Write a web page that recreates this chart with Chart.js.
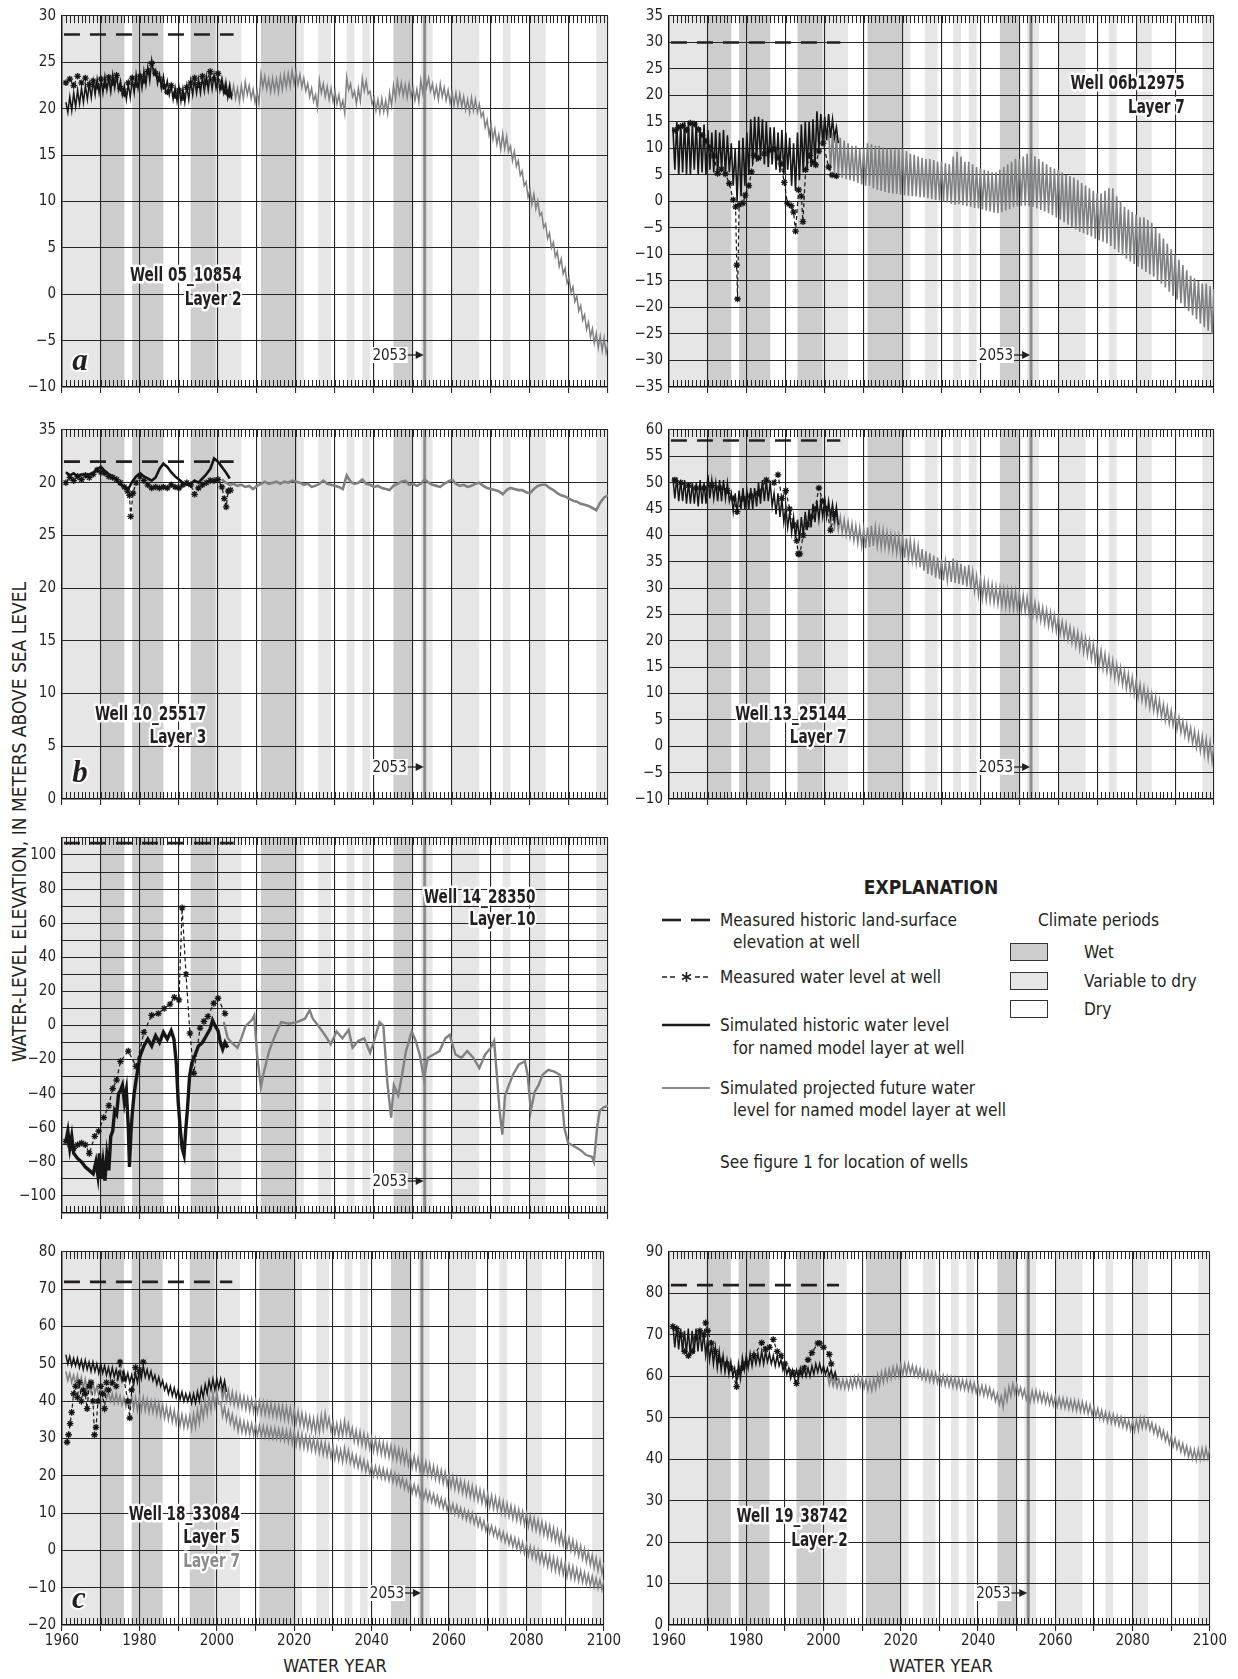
<!DOCTYPE html>
<html>
<head>
<meta charset="utf-8">
<script src="https://cdn.jsdelivr.net/npm/chart.js@4.4.0/dist/chart.umd.min.js"></script>
<style>
  body { margin: 0; background: #fff; }
  #fig { position: relative; width: 1238px; height: 1679px; overflow: hidden;
         font-family: "Liberation Sans Narrow", "DejaVu Sans Condensed", "Roboto Condensed", "Arial Narrow", sans-serif;
         color: #231f20; }
  #fig canvas { position: absolute; }
  .t { position: absolute; white-space: nowrap; font-size: 18px; line-height: 1;
       transform: translateY(-50%) scaleX(0.95); transform-origin: left center; }
  .b { font-weight: bold; }
  .sw { position: absolute; width: 38px; height: 18px; border: 1px solid #333; box-sizing: border-box; }
  #ytitle { position: absolute; left: 19px; top: 822px; white-space: nowrap; font-size: 19px;
            transform: translate(-50%, -50%) rotate(-90deg); }
</style>
</head>
<body>
<div id="fig">
  <div id="ytitle">WATER-LEVEL ELEVATION, IN METERS ABOVE SEA LEVEL</div>
  <div class="t" style="left:335px;top:1666px;transform:translate(-50%,-50%)">WATER YEAR</div>
  <div class="t" style="left:941px;top:1666px;transform:translate(-50%,-50%)">WATER YEAR</div>

  <!-- explanation -->
  <div class="t b" style="left:931px;top:887px;font-size:19px;transform:translate(-50%,-50%)">EXPLANATION</div>
  <svg style="position:absolute;left:655px;top:905px" width="60" height="220">
    <line x1="7" y1="15" x2="26" y2="15" stroke="#231f20" stroke-width="2.6"/>
    <line x1="36" y1="15" x2="55" y2="15" stroke="#231f20" stroke-width="2.6"/>
    <line x1="7" y1="72" x2="23" y2="72" stroke="#231f20" stroke-width="1.4" stroke-dasharray="5,3"/>
    <line x1="40" y1="72" x2="56" y2="72" stroke="#231f20" stroke-width="1.4" stroke-dasharray="5,3"/>
    <g stroke="#231f20" stroke-width="1.6">
      <line x1="31.5" y1="67" x2="31.5" y2="77"/><line x1="27" y1="69.5" x2="36" y2="74.5"/><line x1="27" y1="74.5" x2="36" y2="69.5"/>
    </g>
    <line x1="7" y1="120" x2="55" y2="120" stroke="#1a1a1a" stroke-width="2.6"/>
    <line x1="7" y1="183" x2="55" y2="183" stroke="#8a8b8d" stroke-width="2.2"/>
  </svg>
  <div class="t" style="left:720px;top:920px">Measured historic land-surface</div>
  <div class="t" style="left:733px;top:942px">elevation at well</div>
  <div class="t" style="left:720px;top:977px">Measured water level at well</div>
  <div class="t" style="left:720px;top:1025px">Simulated historic water level</div>
  <div class="t" style="left:733px;top:1048px">for named model layer at well</div>
  <div class="t" style="left:720px;top:1088px">Simulated projected future water</div>
  <div class="t" style="left:733px;top:1110px">level for named model layer at well</div>
  <div class="t" style="left:720px;top:1162px">See figure 1 for location of wells</div>
  <div class="t" style="left:1038px;top:920px">Climate periods</div>
  <div class="sw" style="left:1010px;top:943px;background:#cdcdce"></div>
  <div class="sw" style="left:1010px;top:972px;background:#e6e6e7"></div>
  <div class="sw" style="left:1010px;top:1000px;background:#fff"></div>
  <div class="t" style="left:1084px;top:952px">Wet</div>
  <div class="t" style="left:1084px;top:981px">Variable to dry</div>
  <div class="t" style="left:1084px;top:1009px">Dry</div>
</div>

<script>
// ---- climate periods (water years) ----
const wetPeriods = [[1969.6, 1976], [1978, 1986], [1993, 1999.4], [2011, 2020.2], [2045, 2050]];
const varPeriods = [[1960, 1969.6], [1999.4, 2006], [2020.2, 2022], [2025.7, 2029], [2033, 2035], [2037, 2039],
                    [2052, 2055], [2060, 2067], [2073, 2075], [2080, 2084], [2097, 2100]];
const markYear = 2053;

// land-surface elevation at each well (a, 06b, b, 13, 14, 18, 19)
const landSurface = [28, 30, 32, 58, 107, 72, 82];

// ---- Well 05_10854, layer 2 ----
const histA_hi = [20.7, 21.3, 21.7, 22.0, 22.2, 22.5, 22.7, 23.0, 23.2, 23.2,
  23.5, 23.3, 23.7, 23.5, 23.0, 22.5, 22.7, 23.2, 23.7, 23.7,
  24.1, 24.5, 25.2, 24.2, 23.7, 23.5, 23.0, 22.5, 22.3, 22.3,
  22.2, 22.5, 23.0, 23.2, 23.2, 23.4, 23.5, 23.6, 23.7, 23.5,
  23.2, 22.7, 22.5];
const histA_lo = [19.6, 19.8, 20.2, 20.5, 20.7, 21.0, 21.2, 21.5, 21.7, 21.7,
  22.0, 21.8, 22.2, 22.0, 21.5, 21.0, 21.2, 21.7, 22.2, 22.2,
  22.6, 23.0, 23.7, 22.7, 22.2, 22.0, 21.5, 21.0, 20.8, 20.8,
  20.7, 21.0, 21.5, 21.7, 21.7, 21.9, 22.0, 22.1, 22.2, 22.0,
  21.7, 21.2, 21.0];
const measA = [22.8, 23.2, 22.5, 23.5, 22.8, 23.3, 22.6, 23.0, 22.4, 23.2,
  22.5, 23.4, 22.8, 23.6, 22.2, 21.6, 22.8, 23.3, 22.6, 23.5,
  23.0, 24.0, 24.9, 23.8, 23.2, 22.4, 21.8, 22.5, 21.4, 22.0,
  21.2, 22.3, 22.8, 23.3, 22.6, 23.5, 22.9, 24.0, 23.2, 23.8,
  22.3, 21.8, 21.5];
const futA_hi = [23.5, 23.1, 22.7, 22.5, 22.2, 22.5, 22.9, 22.5, 22.1, 21.9,
  23.7, 23.5, 23.2, 23.3, 23.2, 23.5, 23.7, 23.8, 24.1, 24.0,
  23.7, 23.3, 22.7, 22.2, 21.5, 23.1, 22.7, 22.4, 22.2, 21.9,
  21.5, 20.9, 23.4, 22.7, 21.9, 22.2, 23.3, 23.0, 21.9, 21.2,
  21.0, 21.1, 20.9, 21.7, 22.5, 23.0, 22.8, 22.6, 22.7, 22.3,
  22.1, 23.1, 23.7, 23.3, 22.7, 22.4, 22.7, 22.3, 22.0, 21.8,
  21.7, 21.6, 21.3, 21.0, 21.2, 21.0, 20.5, 19.6, 18.8, 18.3,
  17.8, 17.2, 17.3, 17.0, 16.0, 15.4, 14.4, 13.3, 12.1, 11.3,
  10.8, 10.1, 8.8, 7.6, 6.6, 5.6, 4.6, 3.8, 2.8, 1.8,
  0.8, -0.2, -1.2, -2.2, -3.0, -3.7, -4.2, -4.5, -4.7, -5.2];
const futA_lo = [22.1, 21.7, 21.3, 21.1, 20.8, 21.1, 21.5, 21.1, 20.7, 20.5,
  22.3, 22.1, 21.8, 21.9, 21.8, 22.1, 22.3, 22.4, 22.7, 22.6,
  22.3, 21.9, 21.3, 20.8, 20.1, 21.7, 21.3, 21.0, 20.8, 20.5,
  20.1, 19.5, 22.0, 21.3, 20.5, 20.8, 21.9, 21.6, 20.5, 19.8,
  19.6, 19.7, 19.5, 20.3, 21.1, 21.6, 21.4, 21.2, 21.3, 20.9,
  20.7, 21.7, 22.3, 21.9, 21.3, 21.0, 21.3, 20.9, 20.6, 20.4,
  20.3, 20.2, 19.9, 19.6, 19.8, 19.6, 19.1, 18.0, 17.2, 16.7,
  16.2, 15.6, 15.7, 15.4, 14.4, 13.8, 12.8, 11.7, 10.5, 9.7,
  9.2, 8.5, 7.2, 6.0, 5.0, 4.0, 3.0, 2.2, 1.2, 0.2,
  -0.8, -1.8, -2.8, -3.8, -4.6, -5.3, -5.8, -6.1, -6.3, -6.8];

// ---- Well 06b12975, layer 7 ----
const histB_hi = [14, 15, 14.5, 15, 15, 14.5, 15, 14, 14.5, 13.5,
  13, 13.5, 13, 13.5, 12.5, 11, 10, 11.5, 12, 13,
  15.5, 16, 16, 15.5, 15, 14, 14, 13, 13.5, 13,
  12, 11, 13, 14.5, 15, 15, 15.5, 17, 16.5, 16,
  16.5, 15.5, 14];
const histB_lo = [6, 5, 5.5, 5, 5, 6, 5, 5.5, 5, 6,
  5.5, 5, 6, 5, 5.5, 3, 0, 1, 3, 5,
  7, 7.5, 8, 7, 6.5, 7, 6, 5.5, 5, 6,
  3, 2, 4, 5.5, 6, 6.5, 7, 10, 11, 11.5,
  12, 12, 11];
const measB_x = [1961.6, 1962.5, 1963.5, 1964.5, 1965.5, 1966.5, 1967.5, 1968.5, 1969.5, 1970.5,
  1971.5, 1972.5, 1973.5, 1974.5, 1975.5, 1976.5, 1977.1, 1977.4, 1977.6, 1978.0,
  1979.0, 1979.6, 1980.5, 1981.2, 1981.8, 1983.0, 1984.5, 1985.7, 1987.0, 1988.0,
  1988.8, 1989.6, 1990.4, 1991.4, 1992.0, 1992.5, 1993.3, 1994.0, 1994.4, 1995.1,
  1996.2, 1997.0, 1997.7, 1998.5, 1999.6, 2001.0, 2001.9, 2003.0];
const measB = [13.4, 14, 14.3, 13.5, 14.8, 14.6, 13.6, 12.5, 11.4, 10.2,
  8.6, 5.3, 6.1, 5.2, 3.4, 0.3, -1, -12, -18.4, -0.6,
  -0.3, 1.2, 3.0, 5.6, 8.7, 8.2, 9.0, 9.7, 9.9, 8.3,
  7.1, 3.6, -0.3, -0.8, -2, -5.6, 2.2, 1, -3.8, 6.0,
  8.7, 7.4, 6.9, 9.5, 11.0, 6.5, 5.0, 4.8];
const futB_hi = [13.5, 13, 12.5, 12, 11.5, 11, 10.5, 10.5, 10, 10,
  11, 10.8, 10.5, 10.5, 10.2, 10, 10, 9.8, 10, 10,
  9.5, 9, 8.8, 8.5, 8.2, 8, 8, 7.8, 7.5, 7.5,
  7.2, 7, 8.5, 9.4, 8.5, 7.5, 7.5, 7, 6.5, 6.2,
  6, 5.8, 5.5, 5.5, 6, 6.5, 7, 7.5, 8, 8,
  8.5, 9, 9, 8.5, 8, 7.5, 7, 6.5, 6.2, 6,
  5.5, 5, 4.8, 4.5, 4, 3.5, 3, 2.5, 2, 1.5,
  1.5, 2, 2.5, 2.5, 1, 0, -1, -1.5, -2, -2.5,
  -3, -3, -3.5, -4, -5, -6, -7, -8, -9, -10,
  -11, -12, -13, -14, -14.5, -15, -15.5, -15.5, -16, -16.5];
const futB_lo = [6, 5.5, 5, 4.5, 4.2, 4, 3.8, 3.5, 3.2, 3,
  3, 2.5, 2.2, 2, 1.8, 1.6, 1.5, 1.4, 1.3, 1.2,
  1.1, 1, 1, 0.8, 0.8, 0.6, 0.5, 0.3, 0.2, 0,
  -0.2, -0.4, -0.6, -0.5, -0.7, -0.9, -1, -1.2, -1.3, -1.5,
  -1.7, -1.9, -2.1, -2.2, -2, -1.7, -1.4, -1.1, -0.9, -0.8,
  -0.8, -0.9, -1, -1.3, -1.6, -1.9, -2.2, -2.6, -3, -3.4,
  -3.9, -4.4, -4.9, -5.3, -5.7, -6, -6.3, -6.6, -7, -7.3,
  -7.6, -7.9, -8.4, -9, -9.6, -10.2, -10.8, -11.3, -11.8, -12.3,
  -12.8, -13.3, -13.7, -14.2, -14.8, -15.5, -16.2, -17, -17.8, -18.5,
  -19.2, -20, -20.7, -21.5, -22.2, -23, -23.7, -24.4, -25, -25.5];

// ---- Well 10_25517, layer 3 ----
const histC = [31.0, 30.7, 30.9, 30.6, 30.8, 30.7, 30.8, 30.9, 31.3, 31.5,
  31.1, 30.8, 30.6, 30.2, 29.8, 29.6, 29.4, 30.1, 30.6, 30.9,
  30.6, 30.4, 30.2, 30.5, 31.3, 31.8, 31.5, 31.0, 30.6, 30.3,
  30.0, 29.8, 29.9, 30.2, 30.0, 30.4, 30.8, 31.3, 32.3, 32.0,
  31.5, 31.0, 30.4];
const measC_x = [1961, 1962, 1963, 1964, 1965, 1966, 1967, 1968, 1969, 1970,
  1971, 1972, 1973, 1974, 1975, 1976, 1976.8, 1977.3, 1977.6, 1978.2,
  1979, 1980, 1981, 1982, 1983, 1984, 1985, 1986, 1987, 1988,
  1989, 1990, 1991, 1992, 1993, 1994, 1995, 1996, 1997, 1998,
  1999, 2000, 2001, 2001.6, 2002.1, 2002.6, 2003.2];
const measC = [30.0, 30.5, 30.2, 30.6, 30.3, 30.7, 30.5, 30.8, 31.2, 31.0,
  30.9, 30.6, 30.5, 30.3, 30.0, 29.6, 29.2, 28.8, 26.8, 29.0,
  30.0, 30.6, 30.2, 29.8, 29.5, 29.6, 29.5, 29.6, 29.5, 29.8,
  29.6, 29.5, 29.8, 30.0, 29.8, 28.9, 29.5, 29.8, 30.0, 30.2,
  30.2, 30.3, 29.6, 28.5, 27.7, 29.2, 29.3];
const futC = [30.3, 30.0, 29.8, 29.9, 29.7, 29.8, 29.6, 29.7, 29.4, 29.7,
  29.9, 30.1, 29.9, 30.0, 30.1, 29.9, 30.1, 30.0, 30.2, 30.1,
  30.0, 29.8, 29.9, 29.6, 29.7, 29.9, 30.2, 29.9, 29.8, 29.7,
  29.6, 29.4, 30.7, 30.1, 29.9, 30.0, 30.3, 29.9, 29.8, 29.6,
  29.7, 29.5, 29.4, 29.3, 29.7, 29.9, 30.1, 30.2, 29.8, 29.9,
  29.7, 29.9, 30.3, 30.0, 29.8, 29.7, 29.6, 29.9, 30.1, 30.3,
  29.9, 29.7, 29.8, 29.6, 29.7, 29.9, 30.0, 29.7, 29.5, 29.4,
  29.3, 29.2, 28.9, 29.3, 29.5, 29.4, 29.3, 29.3, 29.1, 29.0,
  29.4, 29.7, 29.8, 29.8, 29.5, 29.3, 29.0, 28.8, 28.7, 28.5,
  28.3, 28.2, 28.0, 27.9, 27.8, 27.6, 27.4, 28.1, 28.6, 28.8];

// ---- Well 13_25144, layer 7 ----
const histD_hi = [51, 51, 50.5, 50.5, 50, 50, 50, 50.5, 50, 51.5,
  50.5, 50, 50.5, 50.5, 50, 48, 48, 48.5, 49, 48.5,
  49, 49, 50, 50.5, 50.5, 50, 48, 48, 47, 45.5,
  44.5, 43.5, 43, 43.5, 44.5, 45, 46, 46.5, 46.5, 47,
  46.5, 46, 45.5];
const histD_lo = [47, 46.5, 46.5, 46, 46, 46, 45.5, 46, 46, 47,
  47, 46.5, 46.5, 47, 46.5, 44.5, 44, 45, 45, 45,
  45, 45.5, 46, 46.5, 46.5, 45.5, 44, 43.5, 42.5, 41.5,
  40.5, 39.5, 39, 40, 41, 41.5, 42.5, 43, 43.5, 43.5,
  43.5, 43, 42];
const measD_x = [1961.5, 1963, 1965, 1967, 1969, 1971, 1973, 1975, 1976.5, 1977.5,
  1979, 1981, 1983, 1985, 1987, 1988, 1989, 1990, 1991, 1992,
  1992.8, 1993.2, 1993.6, 1994.5, 1995.5, 1996.5, 1997.5, 1998.5, 1999.5, 2000.5,
  2001.5, 2002.5];
const measD = [50.5, 50, 49.5, 49, 49, 49.5, 49, 48.5, 47, 44.5,
  47, 47.5, 48, 50.5, 50, 51.5, 47, 48.5, 45, 42,
  39, 36.5, 36.5, 40, 42, 43.5, 45, 49, 46.5, 45,
  41, 44];
const futD_hi = [45.0, 44.5, 44.0, 43.5, 43.0, 42.6, 42.2, 41.8, 41.5, 41.3,
  41.5, 41.8, 41.6, 41.2, 41.0, 40.6, 40.3, 40.0, 39.8, 39.6,
  39.4, 39.0, 38.5, 38.0, 37.4, 37.0, 36.6, 36.2, 35.8, 35.4,
  35.1, 35.0, 35.6, 35.3, 34.6, 34.2, 34.4, 33.2, 32.3, 31.8,
  31.3, 31.0, 30.6, 30.3, 30.0, 29.8, 29.6, 29.5, 29.4, 29.0,
  28.7, 28.3, 27.8, 27.3, 26.8, 26.3, 25.9, 25.4, 24.9, 24.4,
  23.7, 23.2, 22.6, 22.0, 21.6, 21.0, 20.5, 20.0, 19.4, 18.8,
  18.2, 17.5, 16.9, 16.3, 15.6, 15.0, 14.3, 13.7, 13.1, 12.4,
  11.8, 11.2, 10.6, 10.0, 9.4, 8.7, 8.0, 7.4, 6.8, 6.1,
  5.5, 4.8, 4.2, 3.5, 2.9, 2.4, 1.9, 1.4, 0.9, 0.5];
const futD_lo = [42.0, 41.5, 41.0, 40.5, 40.1, 39.6, 39.0, 38.5, 38.0, 37.6,
  37.8, 38.0, 37.9, 37.7, 37.6, 37.3, 37.0, 36.6, 36.2, 35.8,
  35.6, 35.2, 34.7, 34.0, 33.3, 32.7, 32.4, 32.0, 31.7, 31.5,
  31.4, 31.2, 31.0, 30.8, 30.6, 30.3, 30.0, 29.4, 28.6, 28.0,
  27.7, 27.5, 27.2, 26.9, 26.6, 26.4, 26.2, 26.0, 25.9, 25.7,
  25.5, 25.2, 24.8, 24.3, 23.8, 23.3, 22.8, 22.3, 21.8, 21.3,
  20.7, 20.2, 19.6, 19.0, 18.4, 17.8, 17.2, 16.6, 16.0, 15.3,
  14.7, 14.1, 13.5, 12.9, 12.3, 11.7, 11.0, 10.4, 9.8, 9.2,
  8.6, 8.0, 7.3, 6.7, 6.1, 5.5, 4.9, 4.3, 3.9, 3.2,
  2.6, 2.0, 1.3, 0.5, -0.2, -0.9, -1.6, -2.3, -2.9, -3.5];

// ---- Well 14_28350, layer 10 ----
const histE_x = [1961, 1961.5, 1962, 1962.5, 1963, 1964, 1965, 1966, 1967, 1968,
  1968.7, 1969.2, 1969.6, 1970, 1970.5, 1971, 1971.5, 1972, 1972.5, 1973,
  1973.5, 1974, 1974.5, 1975, 1975.5, 1976, 1976.5, 1977, 1977.3, 1977.7,
  1978, 1978.5, 1979, 1980, 1981, 1982, 1983, 1984, 1985, 1986,
  1987, 1988, 1988.7, 1989.3, 1989.8, 1990.3, 1990.8, 1991.3, 1991.7, 1992.2,
  1992.7, 1993.3, 1994, 1995, 1996, 1997, 1998, 1998.6, 1999.2, 2000,
  2000.6, 2001.2, 2001.8, 2002.5];
const histE = [-68, -62, -72, -65, -75, -78, -80, -83, -85, -87,
  -80, -88, -75, -90, -80, -91, -76, -85, -65, -62,
  -50, -52, -40, -38, -35, -45, -38, -60, -83, -62,
  -52, -40, -32, -18, -12, -8, -12, -6, -10, -4,
  -8, -3, -8, -22, -45, -60, -72, -76, -62, -48,
  -30, -22, -18, -12, -10, -6, -2, 3, 0, -3,
  -10, -14, -10, -13];
const measE_x = [1961, 1962, 1963, 1964, 1965, 1966, 1967, 1968.4, 1969.4, 1970.7,
  1972, 1973, 1974, 1975, 1977, 1979, 1981, 1983, 1984.7, 1986.2,
  1987.7, 1988.8, 1990, 1990.8, 1991.8, 1992.8, 1993.8, 1995.4, 1996.4, 1997.4,
  1998.9, 2000, 2001.8];
const measE = [-68, -70, -72, -70, -69, -70, -75, -65, -62, -54,
  -47, -37, -32, -21, -15, -24, -4, 6, 7, 10,
  12.5, 16.5, 15, 69, 30, -4.5, -28, -1.5, 2.4, 5.3,
  13, 16, 7];
const futE_x = [2001.5, 2002.5, 2003.5, 2005, 2006, 2007, 2008.6, 2009.3, 2010, 2011,
  2011.6, 2013.1, 2014.7, 2016.2, 2018.2, 2020.2, 2022.3, 2023.5, 2024.3, 2025.8,
  2027.4, 2028.9, 2030.4, 2031.9, 2033.5, 2034.5, 2036, 2037.5, 2039, 2040,
  2041.4, 2042.4, 2043.4, 2044.4, 2045.1, 2046.2, 2047.2, 2048.2, 2049.7, 2050.7,
  2051.7, 2052.8, 2053.8, 2055.3, 2056.8, 2058.3, 2059.4, 2060.9, 2062.4, 2063.9,
  2065.5, 2067, 2068.5, 2070, 2070.8, 2071.5, 2072.2, 2072.9, 2073.6, 2074.6,
  2075.6, 2077.1, 2078.7, 2079.4, 2080.2, 2081.2, 2082.2, 2083.2, 2084.7, 2086.2,
  2087.7, 2088.8, 2089.8, 2091.4, 2092.9, 2094.4, 2095.9, 2096.4, 2097.2, 2097.9,
  2098.9, 2100];
const futE = [2, -7.5, -10, -13, -7.5, -0.5, 3, 6, -17, -36,
  -29, -15, -5.5, 2, 1, 2, 4, 9, 4, -0.5,
  -5.5, -11, -3.5, -7.5, -2.5, -13, -9, -7.5, -16, -9,
  2, 0, -33, -54, -35, -41, -29, -15, -3.5, -9,
  -17, -31, -19, -17, -15, -7.5, -5.5, -17, -19, -15,
  -19, -25, -17, -13, -9, -29, -50, -64, -41, -35,
  -29, -23, -21, -29, -50, -39, -35, -29, -26, -27,
  -29, -60, -69, -71, -73, -76, -77, -80, -60, -50,
  -48, -47];

// ---- Well 18_33084, layers 5 and 7 ----
const histF5_hi = [52.5, 52, 51.5, 51.5, 51, 51, 50.5, 50.5, 50, 50,
  49.5, 49, 49, 48.5, 48, 48, 47.5, 47, 47.5, 48.5,
  49.5, 48.5, 48, 47, 46.5, 45.5, 44.5, 44, 43.5, 43,
  42.5, 42, 42, 42, 42.5, 43.5, 44.5, 45.5, 46, 46,
  46, 45.5];
const histF5_lo = [50, 49.5, 49.5, 49, 48.5, 48.5, 48, 48, 47.5, 47.5,
  47, 46.5, 46.5, 46, 45.5, 45.5, 45, 44.5, 45, 46,
  46.5, 46, 45.5, 44.5, 44, 43, 42, 41.5, 41, 40.5,
  40, 40, 39.5, 39.5, 40, 41, 42, 43, 43, 43.5,
  43, 42.5];
const histF7_hi = [48, 47.5, 47, 47, 46.5, 46, 45.5, 45, 44, 43.5,
  43, 42.5, 42, 42, 41.5, 41, 41, 41.5, 41, 41,
  41, 40.5, 40, 40, 39.5, 39, 38.5, 38, 37.5, 37,
  36.5, 36, 36, 36.5, 37.5, 39, 40, 41, 42, 42.5];
const histF7_lo = [45.5, 45, 44.5, 44, 43.5, 43, 42.5, 42, 41.5, 41,
  40.5, 40, 39.5, 39.5, 39, 38.5, 38, 38, 37.5, 37.5,
  37.5, 37, 37, 36.5, 36, 35.5, 35, 34.5, 34, 33.5,
  33, 33, 32.5, 33, 34, 35.5, 36.5, 37.5, 38.5, 39];
const measF_x = [1961.3, 1961.7, 1962.1, 1962.5, 1963, 1963.5, 1964, 1964.5, 1965, 1965.5,
  1966, 1966.5, 1967, 1967.5, 1968, 1968.4, 1968.8, 1969.3, 1970, 1970.5,
  1971, 1971.5, 1972, 1973, 1974, 1975, 1976, 1977, 1977.5, 1978,
  1979, 1980, 1981];
const measF = [29, 31, 34, 37, 42, 44, 41, 45, 40, 43,
  42, 38, 44, 45, 40, 31, 33, 40, 44, 42,
  38, 45, 43, 45, 44, 50.5, 46, 40, 35.5, 43,
  49, 48, 50.5];
const futF5_hi = [44, 43.5, 43, 42.5, 42, 41.5, 41.2, 40.8, 40.5, 40.2,
  40, 39.8, 39.6, 39.4, 39.2, 39, 38.8, 38.5, 38.2, 37.8,
  37.3, 36.8, 36.3, 35.8, 35.4, 35.5, 36.2, 36.8, 35.5, 34.6,
  34, 34.2, 34.8, 34, 32.8, 32.2, 31.8, 31.3, 30.8, 30.2,
  29.8, 29.3, 28.9, 28.5, 28.1, 27.7, 27.3, 26.8, 26.3, 25.8,
  25.3, 24.8, 24.3, 23.7, 23.2, 22.6, 22.1, 21.5, 21.0, 20.4,
  19.9, 19.4, 18.8, 18.3, 17.8, 17.3, 16.8, 16.2, 15.7, 15.2,
  14.7, 14.2, 13.6, 13.1, 12.6, 12.0, 11.5, 11.0, 10.4, 9.9,
  9.3, 8.8, 8.2, 7.7, 7.1, 6.6, 6.0, 5.4, 4.8, 4.1,
  3.4, 2.7, 2.0, 1.2, 0.4, -0.4, -1.2, -2.0, -2.7, -3.3];
const futF5_lo = [40.5, 40, 39.5, 39, 38.6, 38.2, 37.8, 37.4, 37.1, 36.8,
  36.6, 36.4, 36.2, 36, 35.7, 35.4, 35.1, 34.8, 34.4, 34,
  33.5, 33, 32.5, 32, 31.6, 31.7, 32.4, 33, 31.9, 31,
  30.4, 30.6, 31.2, 30.4, 29.2, 28.6, 28.2, 27.7, 27.2, 26.6,
  26.2, 25.8, 25.4, 25, 24.6, 24.2, 23.8, 23.3, 22.8, 22.3,
  21.8, 21.3, 20.8, 20.2, 19.7, 19.1, 18.6, 18.0, 17.5, 16.9,
  16.4, 15.9, 15.3, 14.8, 14.3, 13.8, 13.3, 12.7, 12.2, 11.7,
  11.2, 10.7, 10.1, 9.6, 9.1, 8.5, 8.0, 7.5, 6.9, 6.4,
  5.8, 5.3, 4.7, 4.2, 3.6, 3.1, 2.5, 1.9, 1.3, 0.6,
  -0.1, -0.8, -1.5, -2.3, -3.1, -3.9, -4.7, -5.5, -6.2, -6.8];
const futF7_hi = [40, 38.5, 37.5, 36.5, 35.5, 35, 34.5, 34.2, 34, 33.7,
  33.5, 33.3, 33.1, 32.9, 32.8, 32.6, 32.4, 32.2, 32.1, 32,
  31.6, 31.2, 30.8, 30.4, 30, 29.6, 29.2, 28.8, 28.4, 28,
  27.5, 27, 27.5, 26.8, 25.8, 25.3, 24.8, 24.2, 23.5, 22.8,
  22.5, 22.2, 21.9, 21.5, 21.2, 20.7, 20.1, 19.5, 18.8, 18.2,
  17.7, 17.2, 16.6, 16.1, 15.6, 15.1, 14.6, 14.0, 13.5, 13.0,
  12.5, 12.0, 11.4, 10.9, 10.4, 10.0, 9.3, 8.6, 7.9, 7.2,
  6.6, 6.0, 5.4, 4.9, 4.3, 3.8, 3.3, 2.8, 2.2, 1.7,
  1.1, 0.6, 0.0, -0.5, -1.0, -1.4, -1.9, -2.4, -2.9, -3.4,
  -3.9, -4.4, -4.9, -5.4, -5.9, -6.4, -6.9, -7.4, -7.8, -8.0];
const futF7_lo = [36, 35, 34, 33, 32, 31.6, 31.3, 31.1, 31, 30.8,
  30.6, 30.4, 30.2, 30.1, 30, 29.7, 29.4, 29, 28.6, 28.2,
  27.8, 27.5, 27.2, 26.9, 26.5, 26.1, 25.7, 25.3, 24.9, 24.5,
  24.1, 23.7, 24, 23.4, 22.7, 22.2, 21.7, 21.1, 20.5, 20,
  19.7, 19.4, 19.1, 18.7, 18.3, 17.8, 17.2, 16.6, 16, 15.4,
  14.9, 14.4, 13.9, 13.4, 12.9, 12.4, 11.8, 11.3, 10.8, 10.3,
  9.8, 9.3, 8.7, 8.2, 7.7, 7.1, 6.5, 5.8, 5.2, 4.6,
  4.0, 3.4, 2.8, 2.2, 1.6, 1.0, 0.4, -0.2, -0.8, -1.4,
  -2.0, -2.6, -3.2, -3.8, -4.4, -5.0, -5.5, -6.0, -6.5, -7.0,
  -7.4, -7.8, -8.2, -8.6, -9.0, -9.4, -9.8, -10.2, -10.6, -11.0];

// ---- Well 19_38742, layer 2 ----
const histG_hi = [72.5, 72, 71.5, 71, 71.5, 71, 71.5, 71, 70.5, 69,
  67.5, 67, 66, 65, 64, 63.5, 62, 63, 64.5, 65,
  65.5, 65.5, 65.5, 66, 66, 65.5, 65, 65, 64, 63,
  62, 61.5, 61.5, 62, 62, 62, 62.5, 63, 63, 62.5,
  62, 61.5, 61];
const histG_lo = [67, 66.5, 66, 65.5, 65, 65.5, 66, 66, 65, 64,
  63, 62, 61.5, 61, 60.5, 60, 58.5, 59.5, 61.5, 62,
  62.5, 63, 63, 63, 63.5, 63, 62.5, 62.5, 61.5, 60.5,
  59.5, 59.5, 59.5, 60, 60, 60, 60.5, 61, 61, 60.5,
  60, 59.5, 59];
const measG_x = [1961, 1962, 1963, 1964, 1965, 1966, 1967, 1968, 1969, 1969.5,
  1970, 1971, 1972, 1973, 1975, 1976, 1977.5, 1978, 1979, 1980,
  1982, 1984, 1985, 1986, 1987, 1988, 1989, 1990, 1992, 1993,
  1994, 1995, 1996, 1997, 1998.5, 1999, 2000, 2001.5, 2002];
const measG = [72, 71.5, 70, 66, 65, 66, 69.3, 71, 70, 72.9,
  71, 68, 66, 64, 63, 62, 57.5, 61, 62, 63,
  65, 68.1, 66.5, 67, 68.9, 66, 65, 63, 61, 58.3,
  61, 62, 64, 65.7, 68, 68, 67, 65.3, 63];
const futG_hi = [60.5, 60, 59.5, 59.3, 59.3, 59.2, 59.5, 59.8, 60, 59.8,
  59.2, 59, 59.5, 60.3, 61, 61.5, 61.8, 62.2, 62.5, 62.8,
  63, 63, 62.6, 62.2, 61.8, 61.5, 61.2, 61, 60.8, 60.5,
  60.2, 60, 59.8, 59.6, 59.4, 59.2, 59, 58.7, 58.4, 58.1,
  57.8, 57.6, 57.2, 56.5, 55.8, 55.3, 56.5, 57.5, 58.2, 58,
  57.3, 56.8, 56.2, 56.5, 56.6, 56.2, 55.9, 55.6, 55.3, 55.1,
  54.9, 54.7, 54.5, 54.3, 54.2, 54, 53.8, 53.5, 53.1, 52.7,
  52.2, 51.8, 51.4, 51.1, 50.8, 50.5, 50.2, 49.8, 49.4, 49.2,
  49.5, 50, 50, 49.5, 48.8, 48.2, 47.6, 46.9, 46.2, 45.6,
  45, 44.3, 43.7, 43.1, 42.6, 42.3, 42.4, 42.6, 42.7, 42.6];
const futG_lo = [58, 57.6, 57.3, 57.2, 57.1, 57, 57.2, 57.5, 57.6, 57.2,
  56.6, 56.5, 57, 57.8, 58.5, 59, 59.4, 59.8, 60.1, 60.3,
  60.5, 60.6, 60.2, 59.8, 59.4, 59.1, 58.8, 58.6, 58.4, 58.1,
  57.8, 57.6, 57.4, 57.2, 57, 56.8, 56.6, 56.3, 56, 55.7,
  55.4, 55.2, 54.8, 54, 53.2, 52.5, 54, 55.2, 55.8, 55.6,
  55, 54.4, 53.8, 54, 54.1, 53.8, 53.5, 53.2, 52.9, 52.7,
  52.5, 52.3, 52.1, 51.9, 51.7, 51.5, 51.3, 51, 50.6, 50.2,
  49.8, 49.4, 49, 48.7, 48.4, 48.1, 47.8, 47.4, 47, 46.8,
  47, 47.5, 47.5, 47, 46.3, 45.7, 45.1, 44.4, 43.7, 43.1,
  42.5, 41.8, 41.2, 40.6, 40.1, 39.8, 39.9, 40.1, 40.2, 40.1];

// ---------------------------------------------------------------
const FONT = '"Liberation Sans Narrow", "DejaVu Sans Condensed", "Roboto Condensed", "Arial Narrow", sans-serif';
const INK = '#231f20', BLACK = '#161616', GRAY = '#808183';
const WET = '#cdcdce', VAR = '#e6e6e7';

const span = (a, b) => { const r = []; for (let y = a; y <= b; y++) r.push(y); return r; };
function zig(yrs, hi, lo) {
  const out = [];
  const n = Math.min(yrs.length, hi.length, lo.length);
  for (let i = 0; i < n; i++) {
    out.push({ x: yrs[i], y: hi[i] });
    out.push({ x: yrs[i] + 0.5, y: lo[i] });
  }
  return out;
}
const pts = (xs, ys) => ys.map((v, i) => ({ x: xs[i], y: v }));
const histYrs = span(1961, 2003), futYrs = span(2001, 2100);

const landDs = v => ({ data: [{ x: 1960.5, y: v }, { x: 2004, y: v }], borderColor: INK, borderWidth: 2.6,
  borderDash: [16, 10], pointRadius: 0, order: 0 });
const measDs = d => ({ data: d, borderColor: BLACK, borderWidth: 1.2, borderDash: [4, 3], pointStyle: 'star',
  pointRadius: 3.3, pointBorderWidth: 1.3, pointBorderColor: BLACK, pointBackgroundColor: BLACK, order: 1 });
const lineDs = (d, c, w, ord) => ({ data: d, borderColor: c, borderWidth: w, pointRadius: 0, order: ord });

// background bands, 2053 marker, minor ticks and the text laid on the plot
const decor = {
  id: 'decor',
  beforeDraw(chart) {
    const { ctx, chartArea: a, scales: { x } } = chart;
    ctx.save();
    const band = (list, col) => {
      ctx.fillStyle = col;
      list.forEach(([s, e]) => {
        const x0 = x.getPixelForValue(s), x1 = x.getPixelForValue(e);
        ctx.fillRect(x0, a.top, x1 - x0, a.bottom - a.top);
      });
    };
    band(varPeriods, VAR);
    band(wetPeriods, WET);
    const xm = x.getPixelForValue(markYear);
    ctx.strokeStyle = '#8e8e90';
    ctx.lineWidth = 3;
    ctx.beginPath(); ctx.moveTo(xm, a.top); ctx.lineTo(xm, a.bottom); ctx.stroke();
    ctx.restore();
  },
  beforeDatasetsDraw(chart) {
    const { ctx, chartArea: a, scales: { x } } = chart;
    ctx.save();
    ctx.strokeStyle = '#222';
    ctx.lineWidth = 1;
    ctx.beginPath();
    for (let yr = 1961; yr < 2100; yr++) {
      const px = Math.round(x.getPixelForValue(yr)) + 0.5;
      ctx.moveTo(px, a.top); ctx.lineTo(px, a.top + 7);
      ctx.moveTo(px, a.bottom); ctx.lineTo(px, a.bottom - 7);
    }
    ctx.stroke();
    ctx.restore();
  },
  afterDatasetsDraw(chart, args, opts) {
    const { ctx, chartArea: a, scales: { x, y } } = chart;
    ctx.save();
    // 2053 arrow label
    const yy = a.bottom - 32;
    ctx.font = '15px ' + FONT;
    ctx.textAlign = 'right';
    ctx.textBaseline = 'middle';
    const xr = x.getPixelForValue(2048.4);
    const w = ctx.measureText('2053').width;
    ctx.fillStyle = '#fff';
    ctx.fillRect(xr - w - 2, yy - 8, w + 3, 16);
    ctx.fillStyle = INK;
    ctx.fillText('2053', xr, yy + 1);
    const xa = x.getPixelForValue(markYear) - 1;
    ctx.strokeStyle = INK; ctx.lineWidth = 1.3;
    ctx.beginPath(); ctx.moveTo(xr + 1, yy); ctx.lineTo(xa - 5, yy); ctx.stroke();
    ctx.beginPath(); ctx.moveTo(xa, yy); ctx.lineTo(xa - 8, yy - 4); ctx.lineTo(xa - 8, yy + 4); ctx.closePath(); ctx.fill();
    // panel letter
    if (opts.letter) {
      ctx.font = 'italic bold 31px "Liberation Serif", "DejaVu Serif", serif';
      ctx.textAlign = 'left';
      ctx.textBaseline = 'alphabetic';
      ctx.lineJoin = 'round';
      ctx.strokeStyle = '#fff'; ctx.lineWidth = 4;
      ctx.strokeText(opts.letter, x.getPixelForValue(1962.6), a.bottom - 17);
      ctx.fillStyle = INK;
      ctx.fillText(opts.letter, x.getPixelForValue(1962.6), a.bottom - 17);
    }
    // well / layer labels (condensed like the original type)
    ctx.font = 'bold 19px ' + FONT;
    ctx.textAlign = 'right';
    ctx.textBaseline = 'middle';
    ctx.lineJoin = 'round';
    (opts.labels || []).forEach(l => {
      const px = x.getPixelForValue(opts.labelX), py = y.getPixelForValue(l.v);
      ctx.save();
      ctx.translate(px, py);
      ctx.scale(0.8, 1);
      ctx.strokeStyle = '#fff'; ctx.lineWidth = 5;
      ctx.strokeText(l.t, 0, 0);
      ctx.fillStyle = l.c || INK;
      ctx.fillText(l.t, 0, 0);
      ctx.restore();
    });
    ctx.restore();
  }
};

const fig = document.getElementById('fig');
function panel(box, bottomRow, yOpt, datasets, dec) {
  const [L, T, R, B] = box;
  const padL = 54, padT = 14, padR = 14, padB = bottomRow ? 34 : 14;
  const cv = document.createElement('canvas');
  cv.width = R - L + padL + padR;
  cv.height = B - T + padT + padB;
  cv.style.left = (L - padL) + 'px';
  cv.style.top = (T - padT) + 'px';
  cv.style.width = cv.width + 'px';
  cv.style.height = cv.height + 'px';
  fig.appendChild(cv);
  new Chart(cv, {
    type: 'line',
    data: { datasets },
    plugins: [decor],
    options: {
      responsive: false, animation: false, events: [],
      layout: { padding: { top: padT, right: padR, left: 0, bottom: 0 } },
      plugins: { legend: { display: false }, tooltip: { enabled: false }, decor: dec },
      scales: {
        x: {
          type: 'linear', min: 1960, max: 2100,
          afterFit: s => { s.height = padB; },
          grid: { color: '#262626', lineWidth: 1.1, tickLength: 6, tickColor: '#262626' },
          border: { color: '#111', width: 1.4 },
          ticks: { stepSize: 10, autoSkip: false, maxRotation: 0, padding: 1, color: INK,
                   font: { family: FONT, size: 15 },
                   callback: v => (bottomRow && v % 20 === 0) ? String(v) : '' }
        },
        y: {
          min: yOpt.min, max: yOpt.max,
          afterFit: s => { s.width = padL; },
          grid: { color: '#262626', lineWidth: 1.1, drawTicks: false },
          border: { color: '#111', width: 1.4 },
          ticks: { stepSize: yOpt.step, autoSkip: false, padding: 6, color: INK,
                   font: { family: FONT, size: 15 },
                   callback: yOpt.label }
        }
      }
    }
  });
}
const num = v => (v < 0 ? '\u2212' + Math.abs(v) : String(v));

// top-left: Well 05_10854
panel([62, 15, 608, 388], false, { min: -10, max: 30, step: 5, label: num }, [
  landDs(landSurface[0]),
  measDs(pts(histYrs, measA)),
  lineDs(zig(histYrs, histA_hi, histA_lo), BLACK, 1.5, 2),
  lineDs(zig(futYrs, futA_hi, futA_lo), GRAY, 1.5, 3)
], { letter: 'a', labelX: 2006, labels: [{ t: 'Well 05_10854', v: 2.0 }, { t: 'Layer 2', v: -0.6 }] });

// top-right: Well 06b12975
panel([669, 15, 1214, 388], false, { min: -35, max: 35, step: 5, label: num }, [
  landDs(landSurface[1]),
  measDs(pts(measB_x, measB)),
  lineDs(zig(histYrs, histB_hi, histB_lo), BLACK, 1.6, 2),
  lineDs(zig(futYrs, futB_hi, futB_lo), GRAY, 1.6, 3)
], { labelX: 2092.5, labels: [{ t: 'Well 06b12975', v: 22.2 }, { t: 'Layer 7', v: 17.7 }] });

// second row left: Well 10_25517 (the 30 tick reads "20" in the original)
panel([62, 429, 608, 800], false, { min: 0, max: 35, step: 5, label: v => (v === 30 ? '20' : num(v)) }, [
  landDs(landSurface[2]),
  measDs(pts(measC_x, measC)),
  lineDs(pts(histYrs, histC), BLACK, 2.6, 2),
  lineDs(pts(futYrs, futC), GRAY, 2.6, 3)
], { letter: 'b', labelX: 1997, labels: [{ t: 'Well 10_25517', v: 8.0 }, { t: 'Layer 3', v: 5.75 }] });

// second row right: Well 13_25144
panel([669, 429, 1214, 800], false, { min: -10, max: 60, step: 5, label: num }, [
  landDs(landSurface[3]),
  measDs(pts(measD_x, measD)),
  lineDs(zig(histYrs, histD_hi, histD_lo), BLACK, 1.5, 2),
  lineDs(zig(futYrs, futD_hi, futD_lo), GRAY, 1.5, 3)
], { labelX: 2005.6, labels: [{ t: 'Well 13_25144', v: 6.0 }, { t: 'Layer 7', v: 1.5 }] });

// third row: Well 14_28350
panel([62, 837, 608, 1214], false, { min: -110, max: 110, step: 10,
  label: v => (v % 20 === 0 && Math.abs(v) <= 100 ? num(v) : '') }, [
  landDs(landSurface[4]),
  measDs(pts(measE_x, measE)),
  lineDs(pts(histE_x, histE), BLACK, 3.4, 2),
  lineDs(pts(futE_x, futE), GRAY, 2.4, 3)
], { labelX: 2081.4, labels: [{ t: 'Well 14_28350', v: 75 }, { t: 'Layer 10', v: 61.6 }] });

// bottom left: Well 18_33084
panel([62, 1251, 608, 1625], true, { min: -20, max: 80, step: 10, label: num }, [
  landDs(landSurface[5]),
  measDs(pts(measF_x, measF)),
  lineDs(zig(span(1961, 2002), histF5_hi, histF5_lo), BLACK, 1.5, 2),
  lineDs(zig(span(1961, 2000), histF7_hi, histF7_lo), GRAY, 1.5, 3),
  lineDs(zig(futYrs, futF5_hi, futF5_lo), GRAY, 1.5, 3),
  lineDs(zig(futYrs, futF7_hi, futF7_lo), GRAY, 1.5, 3)
], { letter: 'c', labelX: 2006, labels: [{ t: 'Well 18_33084', v: 9.5 }, { t: 'Layer 5', v: 3.3 },
  { t: 'Layer 7', v: -3.1, c: '#8a8b8d' }] });

// bottom right: Well 19_38742
panel([669, 1251, 1214, 1625], true, { min: 0, max: 90, step: 10, label: num }, [
  landDs(landSurface[6]),
  measDs(pts(measG_x, measG)),
  lineDs(zig(histYrs, histG_hi, histG_lo), BLACK, 1.5, 2),
  lineDs(zig(futYrs, futG_hi, futG_lo), GRAY, 1.5, 3)
], { labelX: 2006.3, labels: [{ t: 'Well 19_38742', v: 26 }, { t: 'Layer 2', v: 20.2 }] });
</script>
</body>
</html>
